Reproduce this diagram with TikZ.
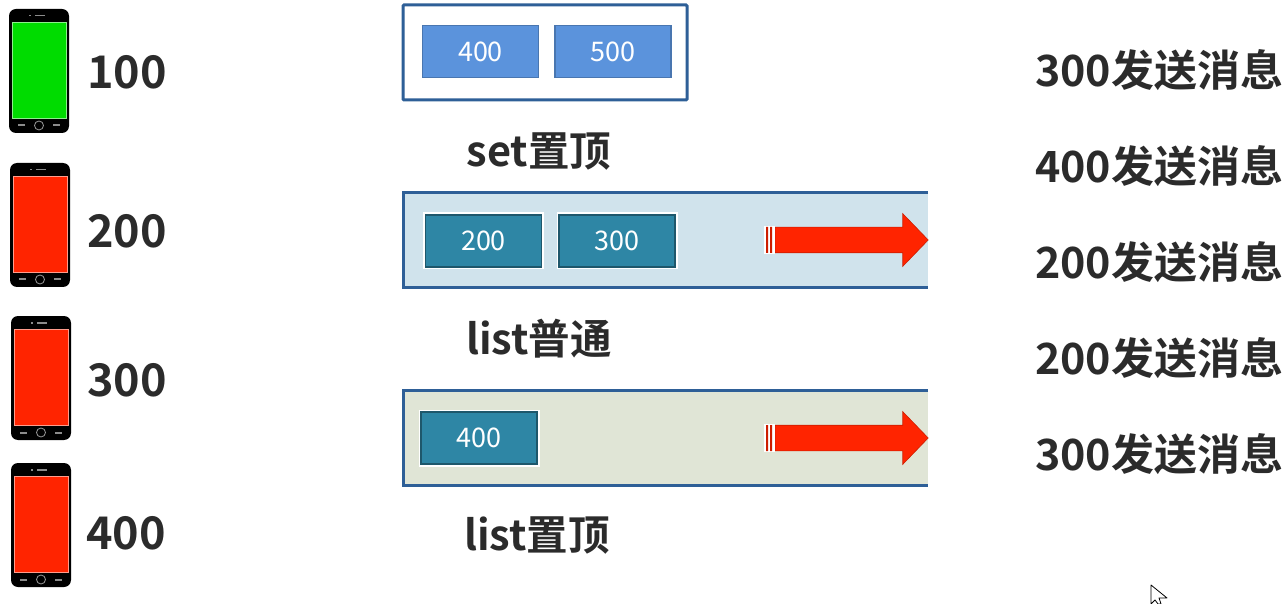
\documentclass[tikz,border=0pt]{standalone}
\usepackage{fontspec}
\usepackage{tikz}
\usetikzlibrary{shapes.arrows}
\setmainfont{Noto Sans CJK SC}[BoldFont=Noto Sans CJK SC Bold]
\definecolor{inkdark}{HTML}{2B2B2B}
\definecolor{frameblue}{HTML}{2E5F97}
\definecolor{itemblue}{HTML}{5B93DC}
\definecolor{itemteal}{HTML}{2E86A5}
\definecolor{rowblue}{HTML}{D0E3EC}
\definecolor{rowgreen}{HTML}{E0E5D6}
\definecolor{screengreen}{HTML}{00DC00}
\definecolor{screenred}{HTML}{FF2400}

\begin{document}
\begin{tikzpicture}[x=1pt,y=-1pt,
  label/.style={anchor=center,text=inkdark,font=\bfseries\fontsize{41.5}{42}\selectfont,inner sep=0},
  number/.style={label,font=\bfseries\fontsize{45}{45}\selectfont},
  send/.style={label,anchor=east,font=\bfseries\fontsize{43}{43}\selectfont},
  itemtop/.style={draw=itemblue!80!black,line width=1.2pt,fill=itemblue,text=white,minimum width=116pt,minimum height=52pt,inner sep=0,font=\fontsize{27}{27}\selectfont},
  itemrow/.style={itemtop,draw=itemteal!65!black,fill=itemteal,preaction={draw=white,line width=5pt}},
  push/.style={single arrow,fill=screenred,draw=screenred!80!black,line width=.6pt,inner sep=0,text width=0pt,text height=25pt,text depth=0pt,minimum height=153pt,minimum width=52pt,single arrow head extend=13.5pt,single arrow tip angle=92,single arrow head indent=0pt},
  phonebody/.style={fill=black,rounded corners=7pt},
  pics/phone/.style={code={
    \path[phonebody] (0,0) rectangle (60,124);
    \fill[#1,draw=white!55!#1,line width=.8pt] (3,13) rectangle (57,109);
    \fill[white!55!black] (26,6) rectangle (36,7.5);
    \fill[white!55!black] (20,6.2) rectangle (21.5,7.5);
    \draw[white!60!black,line width=.8pt] (30,116.5) circle (4.5);
    \fill[white!55!black] (9,115.5) rectangle (16,117.5);
    \fill[white!55!black] (44,115.5) rectangle (51,117.5);
  }}]
\useasboundingbox (0,0) rectangle (1283,604);

% phones
\path (9,9) pic {phone=screengreen};
\path (10,163) pic {phone=screenred};
\path (11,316) pic {phone=screenred};
\path (11,463) pic {phone=screenred};
\node [number] (n100) at (127,72) {100};
\node [number] (n200) at (127,231) {200};
\node [number] (n300) at (127,380) {300};
\node [number] (n400) at (126,533) {400};

% set
\draw [frameblue,line width=3pt,fill=white,rounded corners=1pt] (403,5) rectangle (687,100);
\node [itemtop] (set400) at (480.5,51.5) {400};
\node [itemtop] (set500) at (613,51.5) {500};
\node [label] (setname) at (539,152) {set置顶};

% list
\fill [rowblue] (403,193) rectangle (928,288);
\draw [frameblue,line width=3pt] (928,193) -- (403,193) -- (403,288) -- (928,288);
\node [itemrow] (list200) at (483.5,241) {200};
\node [itemrow] (list300) at (617,241) {300};
\node [push] (listarrow) at (845.5,240) {};
\fill [white] (764,226) rectangle (775,254);
\fill [screenred!80!black] (766,227) rectangle (768,253) (770,227) rectangle (772,253);
\node [label] (listname) at (539,339) {list普通};

% top list
\fill [rowgreen] (403,390) rectangle (928,485);
\draw [frameblue,line width=3pt] (928,390) -- (403,390) -- (403,485) -- (928,485);
\node [itemrow] (top400) at (479,438) {400};
\node [push] (toparrow) at (845.5,438) {};
\fill [white] (764,424) rectangle (775,452);
\fill [screenred!80!black] (766,425) rectangle (768,451) (770,425) rectangle (772,451);
\node [label] (topname) at (537,536) {list置顶};

% messages
\node [send] (msg1) at (1283.5,70) {300发送消息};
\node [send] (msg2) at (1283.5,166) {400发送消息};
\node [send] (msg3) at (1283.5,262) {200发送消息};
\node [send] (msg4) at (1283.5,358) {200发送消息};
\node [send] (msg5) at (1283.5,454) {300发送消息};

% cursor
\draw [fill=white,line width=.8pt,line join=round] (1151,585) -- (1151,604) -- (1155,600) -- (1158,604) -- (1161,604) -- (1159,598) -- (1167,598) -- cycle;
\end{tikzpicture}
\end{document}
